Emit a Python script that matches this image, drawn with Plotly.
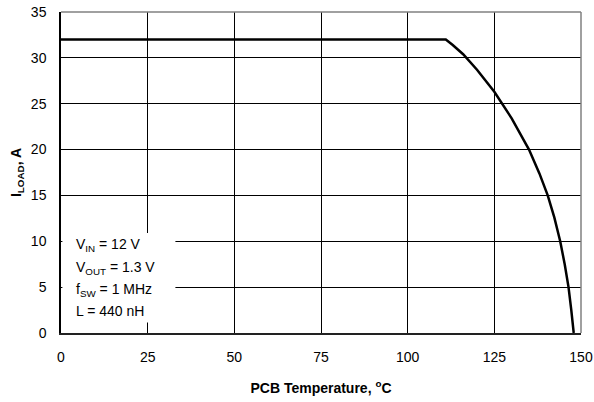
import plotly.graph_objects as go

temp_c = [0, 111, 113, 116, 120, 125, 130, 135, 138, 140.4, 142.3, 144, 145.3, 146.4, 147.2, 147.9]
i_load = [32, 32, 31.4, 30.4, 28.7, 26.3, 23.4, 20, 17.4, 15, 12.6, 10, 7.5, 5, 2.5, 0]

x_ticks = [0, 25, 50, 75, 100, 125, 150]
y_ticks = [0, 5, 10, 15, 20, 25, 30, 35]
notes = ["V<sub>IN</sub> = 12 V", "V<sub>OUT</sub> = 1.3 V", "f<sub>SW</sub> = 1 MHz", "L = 440 nH"]

FONT = "Liberation Sans, Arial, sans-serif"

fig = go.Figure()
fig.add_trace(go.Scatter(x=temp_c, y=i_load, mode="lines",
                         line=dict(color="black", width=2.5), showlegend=False))

fig.update_layout(
    width=594, height=402,
    margin=dict(l=61, r=13, t=12, b=69, autoexpand=False),
    paper_bgcolor="white", plot_bgcolor="white",
    font=dict(family=FONT, size=14, color="black"),
    xaxis=dict(range=[0, 150], tickvals=x_ticks, ticktext=[str(v) for v in x_ticks],
               showgrid=True, gridcolor="black", gridwidth=1, automargin=False,
               showline=True, linecolor="#222", linewidth=1.5,
               zeroline=False, ticks="", ticklabelstandoff=10, ticklabeloverflow="allow",
               title=dict(text="<b>PCB Temperature, <sup>o</sup>C</b>",
                          font=dict(size=14), standoff=20)),
    yaxis=dict(range=[0, 35], tickvals=y_ticks, ticktext=[str(v) for v in y_ticks],
               showgrid=True, gridcolor="black", gridwidth=1, automargin=False,
               showline=True, linecolor="black", linewidth=1.5,
               zeroline=False, ticks="", ticklabelstandoff=10, ticklabeloverflow="allow",
               title=dict(text="<b>I<sub>LOAD</sub>, A</b>", font=dict(size=14), standoff=6)),
)

# white box behind the note text
fig.add_shape(type="rect", xref="x", yref="y", x0=0.4, x1=33, y0=1.15, y1=10.9,
              fillcolor="white", line=dict(width=0), layer="above")
# gray top/right border
fig.add_shape(type="line", xref="paper", yref="paper", x0=0, x1=1, y0=1, y1=1,
              line=dict(color="#808080", width=1.5), layer="above")
fig.add_shape(type="line", xref="paper", yref="paper", x0=1, x1=1, y0=0, y1=1,
              line=dict(color="#808080", width=1.5), layer="above")

line_y = [9.6, 7.1, 4.7, 2.4]
for txt, yy in zip(notes, line_y):
    fig.add_annotation(x=3.8, y=yy, xref="x", yref="y", text=txt, showarrow=False,
                       xanchor="left", yanchor="middle", font=dict(size=14))

fig.write_html("out.html", config={"displayModeBar": False},
               post_script="document.body.style.margin='0';document.body.style.overflow='hidden';")
